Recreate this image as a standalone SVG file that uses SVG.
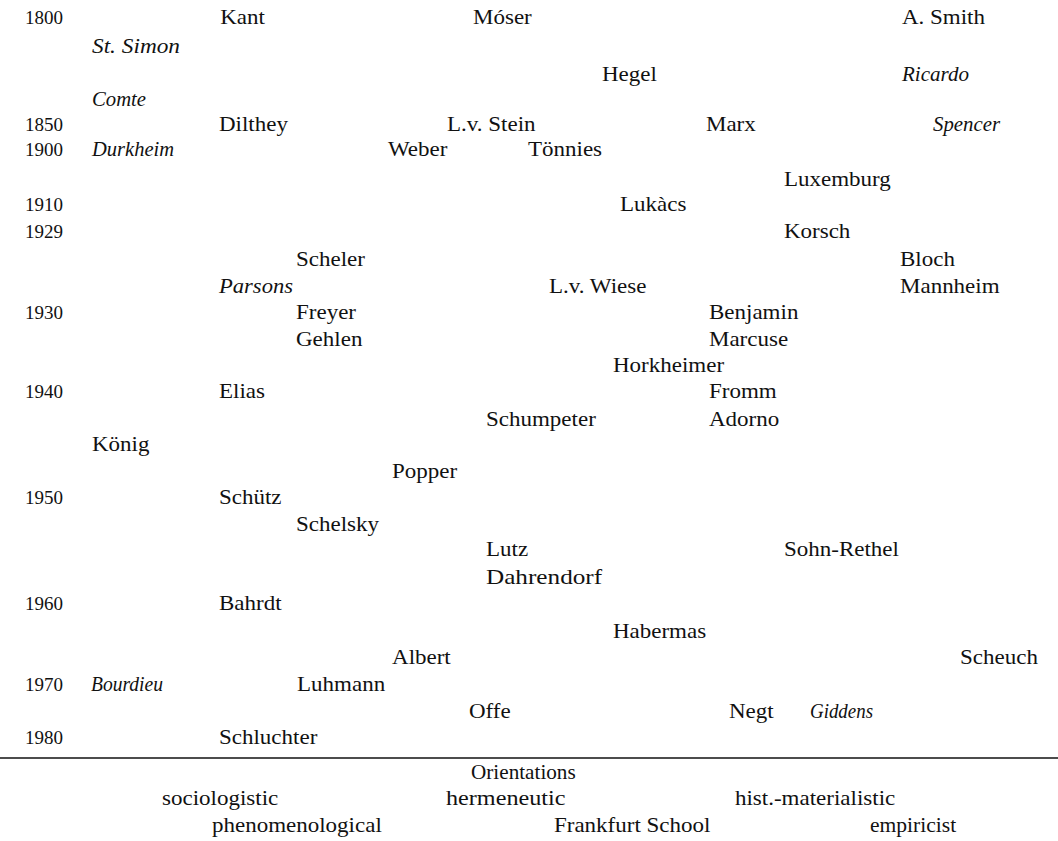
<svg xmlns="http://www.w3.org/2000/svg" width="1058" height="841" viewBox="0 0 1058 841">
<style>
text{font-family:"Liberation Serif","Times New Roman",serif;font-size:20px;fill:#111}
.i{font-style:italic;font-size:20.5px}
.y{font-size:19px}
</style>
<rect width="1058" height="841" fill="#fff"/>
<g id="years">
<text class="y" x="25" y="24">1800</text>
<text class="y" x="25" y="131">1850</text>
<text class="y" x="25" y="156">1900</text>
<text class="y" x="25" y="211">1910</text>
<text class="y" x="25" y="238">1929</text>
<text class="y" x="25" y="319">1930</text>
<text class="y" x="25" y="398">1940</text>
<text class="y" x="25" y="504">1950</text>
<text class="y" x="25" y="610">1960</text>
<text class="y" x="25" y="691">1970</text>
<text class="y" x="25" y="744">1980</text>
</g>
<g id="italic-names">
<text class="i" x="92" y="53" textLength="88" lengthAdjust="spacingAndGlyphs">St. Simon</text>
<text class="i" x="902" y="81" textLength="67" lengthAdjust="spacingAndGlyphs">Ricardo</text>
<text class="i" x="92" y="106" textLength="54" lengthAdjust="spacingAndGlyphs">Comte</text>
<text class="i" x="933" y="131" textLength="67" lengthAdjust="spacingAndGlyphs">Spencer</text>
<text class="i" x="92" y="156">Durkheim</text>
<text class="i" x="219" y="293" textLength="74" lengthAdjust="spacingAndGlyphs">Parsons</text>
<text class="i" x="91" y="691" textLength="72" lengthAdjust="spacingAndGlyphs">Bourdieu</text>
<text class="i" x="810" y="718" textLength="63" lengthAdjust="spacingAndGlyphs">Giddens</text>
</g>
<g id="names" transform="scale(1.15,1)">
<text x="191.5" y="24">Kant</text>
<text x="411.3" y="24">Móser</text>
<text x="784.3" y="24">A. Smith</text>
<text x="523.5" y="81">Hegel</text>
<text x="190.4" y="131">Dilthey</text>
<text x="388.7" y="131">L.v. Stein</text>
<text x="613.9" y="131">Marx</text>
<text x="337.4" y="156">Weber</text>
<text x="459.1" y="156">Tönnies</text>
<text x="681.7" y="186">Luxemburg</text>
<text x="539.1" y="211">Lukàcs</text>
<text x="681.7" y="238">Korsch</text>
<text x="257.4" y="266">Scheler</text>
<text x="782.6" y="266">Bloch</text>
<text x="477.4" y="293">L.v. Wiese</text>
<text x="782.6" y="293">Mannheim</text>
<text x="257.4" y="319">Freyer</text>
<text x="616.5" y="319">Benjamin</text>
<text x="257.4" y="346">Gehlen</text>
<text x="616.5" y="346">Marcuse</text>
<text x="533" y="372">Horkheimer</text>
<text x="190.4" y="398">Elias</text>
<text x="616.5" y="398">Fromm</text>
<text x="422.6" y="426">Schumpeter</text>
<text x="616.5" y="426">Adorno</text>
<text x="80" y="451">König</text>
<text x="340.9" y="478">Popper</text>
<text x="190.4" y="504">Schütz</text>
<text x="257.4" y="531">Schelsky</text>
<text x="422.6" y="556">Lutz</text>
<text x="681.7" y="556">Sohn-Rethel</text>
<text x="422.6" y="584" textLength="101" lengthAdjust="spacingAndGlyphs">Dahrendorf</text>
<text x="190.4" y="610">Bahrdt</text>
<text x="533" y="638">Habermas</text>
<text x="340.9" y="664">Albert</text>
<text x="834.8" y="664">Scheuch</text>
<text x="258.3" y="691">Luhmann</text>
<text x="407.8" y="718">Offe</text>
<text x="633.9" y="718">Negt</text>
<text x="190.4" y="744">Schluchter</text>
</g>
<line x1="0" y1="758" x2="1058" y2="758" stroke="#111" stroke-width="1.5"/>
<g id="legend" transform="scale(1.15,1)">
<text x="409.6" y="779" textLength="91" lengthAdjust="spacingAndGlyphs">Orientations</text>
<text x="140.9" y="805">sociologistic</text>
<text x="387.8" y="805" textLength="104" lengthAdjust="spacingAndGlyphs">hermeneutic</text>
<text x="639.1" y="805">hist.-materialistic</text>
<text x="184.3" y="832">phenomenological</text>
<text x="481.7" y="832">Frankfurt School</text>
<text x="756.5" y="832" textLength="75" lengthAdjust="spacingAndGlyphs">empiricist</text>
</g>
</svg>
